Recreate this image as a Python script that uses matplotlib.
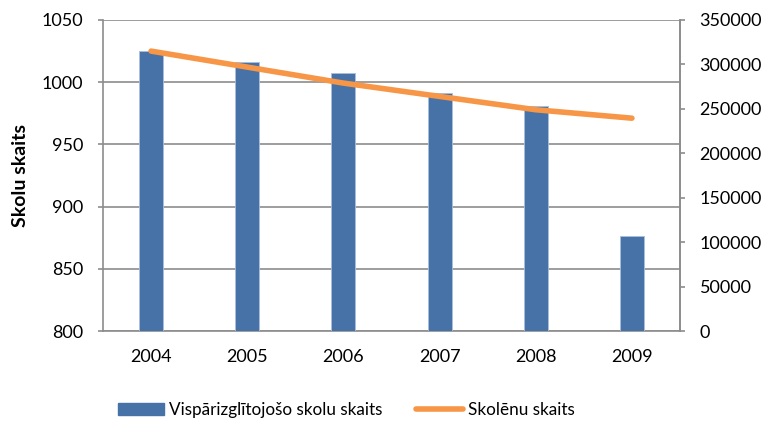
import matplotlib
matplotlib.use("Agg")
import matplotlib.pyplot as plt
from matplotlib.lines import Line2D
from matplotlib.patches import Patch

years = ["2004", "2005", "2006", "2007", "2008", "2009"]
schools = [1025, 1016, 1007, 991, 981, 876]
students = [315000, 297000, 279000, 264000, 249000, 239500]

plt.rcParams['font.family'] = ['Lato', 'DejaVu Sans']

fig = plt.figure(figsize=(7.66, 4.21), dpi=100)
ax = fig.add_axes([103/766, 1-331/421, (680-103)/766, (331-20)/421])
x = list(range(len(years)))
bar_color = "#4672A8"
line_color = "#F79646"
grid_color = "#8C8C8C"

ax.bar(x, [s - 800 for s in schools], bottom=800, width=0.25, color=bar_color,
       edgecolor="#A9BEDB", linewidth=0.6, zorder=3)
ax.set_ylim(800, 1050)
ax.set_xlim(-0.5, 5.5)
ax.set_yticks([800, 850, 900, 950, 1000, 1050])
ax.set_xticks(x)
ax.set_xticklabels(years)
ax.yaxis.grid(True, color=grid_color, linewidth=1.2, zorder=0)
ax.set_axisbelow(True)
ax.set_ylabel("Skolu skaits", fontsize=14, fontweight="bold", labelpad=9)
ax.spines["top"].set_visible(False)
for sp in ["left", "bottom", "right"]:
    ax.spines[sp].set_color(grid_color)
    ax.spines[sp].set_linewidth(1.2)
ax.tick_params(axis="y", length=3.6, width=1.2, color=grid_color, labelsize=13, pad=10.5)
ax.tick_params(axis="x", length=0, labelsize=13, pad=13)

ax2 = ax.twinx()
ax2.plot(x, students, color=line_color, linewidth=4, solid_capstyle="round", zorder=4)
ax2.set_ylim(0, 350000)
ax2.set_yticks(range(0, 350001, 50000))
ax2.spines["top"].set_visible(False)
ax2.spines["right"].set_color(grid_color)
ax2.spines["right"].set_linewidth(1.2)
ax2.spines["left"].set_visible(False)
ax2.spines["bottom"].set_visible(False)
ax2.tick_params(axis="y", length=3.6, width=1.2, color=grid_color, labelsize=13, pad=10.5)

handles = [Patch(facecolor=bar_color, edgecolor=bar_color),
           Line2D([0], [0], color=line_color, linewidth=4, solid_capstyle="round")]
fig.legend(handles, ["Vispārizglītojošo skolu skaits", "Skolēnu skaits"],
           loc="center", bbox_to_anchor=(346/766, 1-410/421), ncol=2, frameon=False,
           fontsize=12.3, handlelength=2.7, columnspacing=2.0, handletextpad=0.3,
           handleheight=0.65)

fig.savefig("out.png", dpi=100)
